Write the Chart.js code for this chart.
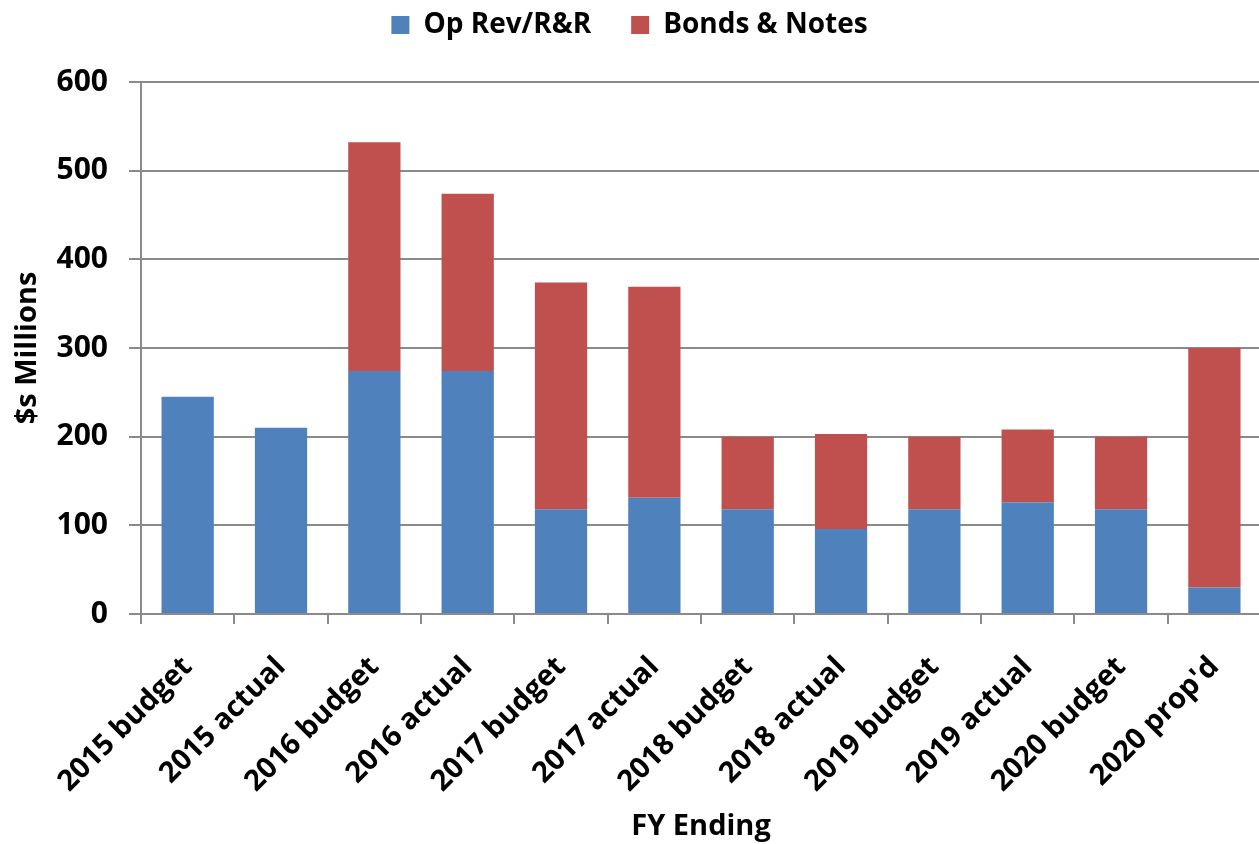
<!DOCTYPE html>
<html>
<head>
<meta charset="utf-8">
<script src="https://cdn.jsdelivr.net/npm/chart.js@4"></script>
<style>
html,body{margin:0;padding:0;background:#fff;overflow:hidden;}
#wrap{width:1259px;height:844px;position:relative;overflow:hidden;}
</style>
</head>
<body>
<div id="wrap"><canvas id="c" width="1265" height="844"></canvas></div>
<script>
const categories = ["2015 budget","2015 actual","2016 budget","2016 actual","2017 budget","2017 actual","2018 budget","2018 actual","2019 budget","2019 actual","2020 budget","2020 prop'd"];
const opRev = [245,210,274,274,118,131,118,96,118,126,118,30];
const bonds = [0,0,258,200,256,238,82,107,82,82,82,270];
const seriesNames = ["Op Rev/R&R","Bonds & Notes"];
const yTicks = [0,100,200,300,400,500,600];

const FONT = "'Open Sans', sans-serif";
const gridColor = '#8a8a8a';

const legendShift = {
  id: 'legendShift',
  afterLayout(chart) {
    const l = chart.legend;
    if (l) { l.top -= 33; l.bottom -= 33; l.left -= 3; l.right -= 3; }
  }
};

new Chart(document.getElementById('c'), {
  type: 'bar',
  data: {
    labels: categories,
    datasets: [
      {label: seriesNames[0], data: opRev, backgroundColor: '#4F81BD', categoryPercentage: 0.56, barPercentage: 1.0},
      {label: seriesNames[1], data: bonds, backgroundColor: '#C0504D', categoryPercentage: 0.56, barPercentage: 1.0}
    ]
  },
  plugins: [legendShift],
  options: {
    responsive: false,
    animation: false,
    devicePixelRatio: 1,
    layout: {padding: {top: 4, right: 0, bottom: 0, left: 0}},
    plugins: {
      legend: {
        position: 'top',
        maxHeight: 83,
        labels: {
          font: {family: FONT, size: 28, weight: 'bold'},
          color: '#000',
          boxWidth: 18, boxHeight: 18,
          padding: 40
        }
      },
      tooltip: {enabled: false}
    },
    scales: {
      x: {
        stacked: true,
        grid: {display: true, drawOnChartArea: false, drawTicks: true, tickLength: 10, color: gridColor, lineWidth: 2, offset: true},
        border: {display: true, color: gridColor, width: 2},
        ticks: {font: {family: FONT, size: 29, weight: 'bold'}, color: '#000', maxRotation: 45, minRotation: 45, padding: 26},
        title: {display: true, text: 'FY Ending', font: {family: FONT, size: 29, weight: 'bold'}, color: '#000', padding: {top: 0, bottom: 0}},
        afterFit: function(scale){ scale.height = 230; }
      },
      y: {
        stacked: true,
        min: 0, max: 600,
        afterBuildTicks: function(scale){ scale.ticks = yTicks.map(v => ({value: v})); },
        grid: {color: gridColor, lineWidth: 2, tickLength: 12, drawTicks: true},
        border: {display: true, color: gridColor, width: 2},
        ticks: {font: {family: FONT, size: 30, weight: 'bold'}, color: '#000', padding: 21},
        title: {display: true, text: '$s Millions', font: {family: FONT, size: 29, weight: 'bold'}, color: '#000', padding: {top: 10, bottom: 0}},
        afterFit: function(scale){ scale.width = 141; }
      }
    }
  }
});
</script>
</body>
</html>
